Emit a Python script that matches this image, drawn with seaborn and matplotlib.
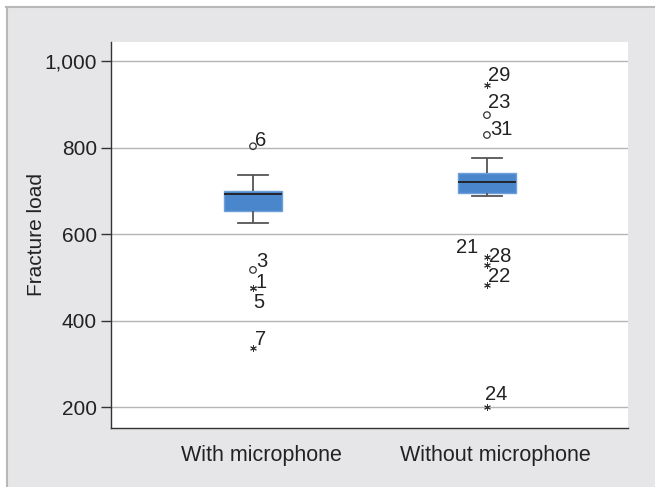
import numpy as np
import pandas as pd
import matplotlib
matplotlib.use("Agg")
import matplotlib.pyplot as plt
import matplotlib.transforms as mtransforms
import seaborn as sns
from matplotlib.patches import Rectangle

# ---- data ----
categories = ["With microphone", "Without microphone"]
# box summary per group: lower whisker, Q1, median, Q3, upper whisker
box_with = [625, 654, 692, 700, 736]
box_without = [689, 694, 720, 740, 775]

# outliers: group, value, marker kind, label
out_group = ["With microphone"] * 5 + ["Without microphone"] * 7
out_value = [803, 517, 476, 476, 336, 945, 875, 829, 548, 528, 482, 201]
out_kind = ["o", "o", "*", "*", "*", "*", "o", "o", "*", "*", "*", "*"]
out_label = ["6", "3", "1", "5", "7", "29", "23", "31", "28", "21", "22", "24"]
# label offsets in pixels (dx, dy) and alignment, reproducing the stacked labels
label_dx = [2, 3, 3, 0, 2, 1, 1, 3, 2, -9, 1, -2]
label_dy = [0, 3, 0, -20, 3, 4, 7, 0, -5, 12, 3, 7]
label_ha = ["left"] * 9 + ["right", "left", "left"]

yticks = [200, 400, 600, 800, 1000]
ytick_labels = ["200", "400", "600", "800", "1,000"]

box_df = pd.DataFrame({
    "group": [categories[0]] * len(box_with) + [categories[1]] * len(box_without),
    "load": box_with + box_without,
})
out_df = pd.DataFrame({"group": out_group, "load": out_value, "kind": out_kind})

plt.rcParams["font.family"] = ["Liberation Sans", "DejaVu Sans"]

fig = plt.figure(figsize=(6.55, 4.87), dpi=100)
fig.patch.set_facecolor("white")
# grey panel with top/left border
fig.patches.append(Rectangle((6 / 655, 0), 1.0, (487 - 6) / 487, transform=fig.transFigure,
                             facecolor="#e6e6e8", edgecolor="none", zorder=-2))
fig.lines.append(plt.Line2D([6 / 655, 1], [1 - 6.5 / 487, 1 - 6.5 / 487], transform=fig.transFigure,
                            color="#b8b8b8", lw=1.5))
fig.lines.append(plt.Line2D([6.5 / 655, 6.5 / 655], [0, 1 - 6.5 / 487], transform=fig.transFigure,
                            color="#b8b8b8", lw=1.5))

ax = fig.add_axes([111 / 655, 1 - 428 / 487, (628 - 111) / 655, (428 - 42) / 487])
ax.set_facecolor("white")

sns.boxplot(data=box_df, x="group", y="load", order=categories, ax=ax,
            whis=(0, 100), width=0.25, showfliers=False,
            boxprops=dict(facecolor="#4a86cc", edgecolor="#6f9fd8", linewidth=1.0),
            medianprops=dict(color="#1e1e1e", linewidth=1.3),
            whiskerprops=dict(color="#555555", linewidth=1.3),
            capprops=dict(color="#555555", linewidth=1.3))

circ = out_df[out_df["kind"] == "o"]
star = out_df[out_df["kind"] == "*"]
sns.scatterplot(data=circ, x="group", y="load", ax=ax, marker="o", s=22,
                facecolor="none", edgecolor="#333333", linewidth=0.9, zorder=5)
sns.scatterplot(data=star, x="group", y="load", ax=ax, marker=(6, 2, 0), s=18,
                color="#333333", linewidth=0.7, zorder=5)

for g, v, lab, dx, dy, ha in zip(out_group, out_value, out_label, label_dx, label_dy, label_ha):
    xi = categories.index(g)
    ax.annotate(lab, (xi, v), xytext=(dx, dy), textcoords="offset pixels",
                fontsize=14.5, color="#222222", ha=ha, va="baseline")

ax.set_xlim(-0.607, 1.603)
ax.set_ylim(151.5, 1044)
ax.set_yticks(yticks)
ax.set_yticklabels(ytick_labels)
ax.yaxis.grid(True, color="#b5b5b5", linewidth=1.0)
ax.xaxis.grid(False)
ax.set_axisbelow(True)
for s in ["top", "right"]:
    ax.spines[s].set_visible(False)
for s in ["left", "bottom"]:
    ax.spines[s].set_color("#333333")
    ax.spines[s].set_linewidth(1.0)
ax.tick_params(axis="y", length=7, width=1, color="#333333", labelsize=15,
               labelcolor="#222222", pad=3)
ax.tick_params(axis="x", length=0, labelsize=15.5, labelcolor="#222222", pad=12)
ax.set_xlabel("")
ax.set_ylabel("Fracture load", fontsize=15, color="#222222", labelpad=-1)

# category labels sit slightly right of the box centres in the reference
shift = mtransforms.ScaledTranslation(8 / 100, 0, fig.dpi_scale_trans)
for lbl in ax.get_xticklabels():
    lbl.set_transform(lbl.get_transform() + shift)

fig.savefig("out.png", dpi=100)
